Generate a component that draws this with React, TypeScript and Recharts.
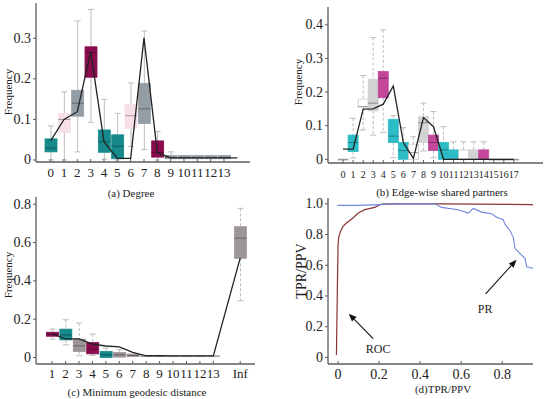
import React from 'react';
import { ComposedChart, Bar, Line, XAxis, YAxis, ReferenceLine, ReferenceDot } from 'recharts';

const SERIF = '"Liberation Serif", "Times New Roman", serif';
const AXIS = '#5c5c5c';
const TEAL = '#16898c';
const PINK = '#f7e0ea';
const GRAY = '#959da4';
const MAROON = '#8a0c4f';
const CYAN = '#2cbcc6';
const MAGENTA = '#c4479c';
const LIGHT = '#d3d3d3';
const WHITE = '#ffffff';
const MAUVE = '#9e9599';

// (a) Degree
const degreeCats = [0, 1, 2, 3, 4, 5, 6, 7, 8, 9, 10, 11, 12, 13];
const degreeLo = [0, 0, 0.02, 0.093, 0.002, 0, 0.033, 0.026, 0, 0.002, 0.002, 0.002, 0.002, 0.002];
const degreeQ1 = [0.02, 0.068, 0.108, 0.204, 0.019, 0.003, 0.078, 0.09, 0.007, 0.003, 0.003, 0.003, 0.003, 0.003];
const degreeMed = [0.029, 0.1, 0.14, 0.265, 0.045, 0.034, 0.109, 0.126, 0.018, 0.006, 0.006, 0.006, 0.006, 0.006];
const degreeQ3 = [0.052, 0.115, 0.172, 0.279, 0.074, 0.062, 0.137, 0.189, 0.047, 0.011, 0.011, 0.011, 0.011, 0.011];
const degreeHi = [0.084, 0.168, 0.343, 0.371, 0.149, 0.115, 0.19, 0.318, 0.07, 0.02, 0.011, 0.011, 0.011, 0.011];
const degreeColors = [TEAL, PINK, GRAY, MAROON, TEAL, TEAL, PINK, GRAY, MAROON, GRAY, GRAY, GRAY, GRAY, GRAY];
const degreeObsX = [0, 1, 2, 3, 4, 5, 6, 7, 8, 9, 10, 11, 12, 13, 14];
const degreeObs = [0.047, 0.1, 0.119, 0.267, 0.045, 0.004, 0.004, 0.301, 0.018, 0.005, 0.005, 0.005, 0.005, 0.005, 0.005];

// (b) Edge-wise shared partners
const espCats = [0, 1, 2, 3, 4, 5, 6, 7, 8, 9, 10, 11, 12, 13, 14, 15, 16, 17];
const espLo = [0, 0.004, 0.087, 0.072, 0.08, 0.005, 0, 0, 0.025, 0.005, 0, 0, 0, 0, 0, 0, 0, 0];
const espQ1 = [0, 0.023, 0.155, 0.144, 0.183, 0.05, 0, 0, 0.05, 0.026, 0, 0, 0, 0, 0, 0, 0, 0];
const espMed = [0, 0.05, 0.157, 0.167, 0.241, 0.069, 0.026, 0.02, 0.109, 0.05, 0.028, 0, 0, 0, 0, 0, 0, 0];
const espQ3 = [0, 0.072, 0.179, 0.238, 0.261, 0.119, 0.05, 0.045, 0.127, 0.072, 0.05, 0.028, 0.028, 0.028, 0.028, 0, 0, 0];
const espHi = [0, 0.122, 0.249, 0.362, 0.385, 0.13, 0.094, 0.067, 0.167, 0.142, 0.097, 0.052, 0.052, 0.052, 0.052, 0, 0, 0];
const espColors = [WHITE, CYAN, WHITE, LIGHT, MAGENTA, CYAN, CYAN, WHITE, LIGHT, MAGENTA, CYAN, CYAN, WHITE, LIGHT, MAGENTA, WHITE, WHITE, WHITE];
const espObs = [0.03, 0.03, 0.149, 0.15, 0.164, 0.218, 0.05, 0.003, 0.124, 0.097, 0, 0, 0, 0, 0, 0, 0, 0];

// (c) Minimum geodesic distance
const geoX = [1, 2, 3, 4, 5, 6, 7, 8, 9, 10, 11, 12, 13, 15];
const geoLabels = ['1', '2', '3', '4', '5', '6', '7', '8', '9', '10', '11', '12', '13', 'Inf'];
const geoLo = [0.096, 0.066, 0.009, 0.01, 0, 0.002, 0.005, 0.004, 0.004, 0.004, 0.004, 0.004, 0.004, 0.296];
const geoQ1 = [0.111, 0.092, 0.031, 0.019, 0, 0.002, 0.005, 0.004, 0.004, 0.004, 0.004, 0.004, 0.004, 0.518];
const geoMed = [0.122, 0.118, 0.061, 0.044, 0.014, 0.014, 0.01, 0.007, 0.007, 0.007, 0.007, 0.007, 0.007, 0.623];
const geoQ3 = [0.132, 0.148, 0.096, 0.078, 0.031, 0.026, 0.018, 0.01, 0.01, 0.01, 0.01, 0.01, 0.01, 0.683];
const geoHi = [0.148, 0.197, 0.18, 0.122, 0.049, 0.04, 0.018, 0.01, 0.01, 0.01, 0.01, 0.01, 0.01, 0.779];
const geoColors = [MAROON, TEAL, MAUVE, MAROON, TEAL, MAUVE, MAUVE, LIGHT, LIGHT, LIGHT, LIGHT, LIGHT, LIGHT, MAUVE];
const geoObs = [0.124, 0.097, 0.097, 0.07, 0.06, 0.055, 0.027, 0.009, 0.009, 0.008, 0.008, 0.008, 0.008, 0.52];

// (d) ROC / PR
const rocX = [-0.008, -0.006, -0.003, 0.0, 0.003, 0.007, 0.012, 0.024, 0.041, 0.055, 0.073, 0.098, 0.13, 0.179, 0.212, 0.25, 0.5, 0.95];
const rocY = [0.015, 0.2, 0.48, 0.73, 0.78, 0.8, 0.82, 0.853, 0.875, 0.89, 0.908, 0.94, 0.962, 0.977, 0.999, 1.0, 1.0, 0.995];
const prX = [-0.003, 0.1, 0.2, 0.3, 0.472, 0.504, 0.585, 0.634, 0.659, 0.7, 0.748, 0.773, 0.805, 0.813, 0.838, 0.854, 0.862, 0.886, 0.911, 0.919, 0.95];
const prY = [0.99, 0.99, 0.995, 1.0, 1.0, 0.977, 0.962, 0.94, 0.97, 0.946, 0.935, 0.913, 0.897, 0.868, 0.825, 0.782, 0.71, 0.677, 0.645, 0.59, 0.58];

type Row = { x: number; lo?: number; q1?: number; med?: number; q3?: number; hi?: number; color?: string; obs?: number };

function buildRows(xs: number[], lo: number[], q1: number[], med: number[], q3: number[], hi: number[], colors: string[], obsX: number[], obs: number[]): Row[] {
  const rows = new Map<number, Row>();
  xs.forEach((x, i) => rows.set(x, { x, lo: lo[i], q1: q1[i], med: med[i], q3: q3[i], hi: hi[i], color: colors[i] }));
  obsX.forEach((x, i) => {
    const r = rows.get(x) ?? { x };
    r.obs = obs[i];
    rows.set(x, r);
  });
  return Array.from(rows.values()).sort((a, b) => a.x - b.x);
}

const degreeRows = buildRows(degreeCats, degreeLo, degreeQ1, degreeMed, degreeQ3, degreeHi, degreeColors, degreeObsX, degreeObs);
const espRows = buildRows(espCats, espLo, espQ1, espMed, espQ3, espHi, espColors, espCats, espObs);
const geoRows = buildRows(geoX, geoLo, geoQ1, geoMed, geoQ3, geoHi, geoColors, geoX, geoObs);
const rocData = rocX.map((x, i) => ({ x, y: rocY[i] }));
const prData = prX.map((x, i) => ({ x, y: prY[i] }));

const makeBoxShape = (dashed: boolean) => (props: any) => {
  const { x, y, width, height, payload } = props;
  if (payload == null || payload.hi == null) return <g />;
  const { lo, hi, q1, q3, med, color } = payload as Row;
  const top = Math.min(y, y + height);
  const h = Math.abs(height);
  const span = (hi as number) - (lo as number);
  const toY = (v: number) => (span > 0 ? top + (((hi as number) - v) / span) * h : top);
  const cx = x + width / 2;
  const yHi = toY(hi as number);
  const yLo = toY(lo as number);
  const yQ3 = toY(q3 as number);
  const yQ1 = toY(q1 as number);
  const yMed = toY(med as number);
  const wStroke = '#bdbdbd';
  const dash = dashed ? '3 2' : undefined;
  const stroke = color === WHITE ? '#c9c9c9' : color;
  return (
    <g>
      {yHi < yQ3 - 0.5 && (
        <g>
          <line x1={cx} x2={cx} y1={yHi} y2={yQ3} stroke={wStroke} strokeDasharray={dash} />
          <line x1={cx - 3} x2={cx + 3} y1={yHi} y2={yHi} stroke={wStroke} />
        </g>
      )}
      {yLo > yQ1 + 0.5 && (
        <g>
          <line x1={cx} x2={cx} y1={yQ1} y2={yLo} stroke={wStroke} strokeDasharray={dash} />
          <line x1={cx - 3} x2={cx + 3} y1={yLo} y2={yLo} stroke={wStroke} />
        </g>
      )}
      <rect x={x} y={yQ3} width={width} height={Math.max(yQ1 - yQ3, 1)} fill={color} stroke={stroke} strokeWidth={0.8} />
      <line x1={x} x2={x + width} y1={yMed} y2={yMed} stroke="rgba(0,0,0,0.35)" strokeWidth={1} />
    </g>
  );
};

const XTick = (props: any) => {
  const { x, y, payload, ticks, labels, fontSize, dy } = props;
  const idx = ticks.indexOf(payload.value);
  const label = idx >= 0 ? labels[idx] : String(payload.value);
  return (
    <g>
      <line x1={x} x2={x} y1={y} y2={y - 3} stroke={AXIS} strokeWidth={1} />
      <text x={x} y={y + dy} textAnchor="middle" fill="#222" style={{ fontFamily: SERIF, fontSize }}>
        {label}
      </text>
    </g>
  );
};

const YTick = (props: any) => {
  const { x, y, payload, ticks, labels, fontSize } = props;
  const idx = ticks.indexOf(payload.value);
  const label = idx >= 0 ? labels[idx] : String(payload.value);
  return (
    <text x={x} y={y} textAnchor="end" dominantBaseline="central" fill="#222" style={{ fontFamily: SERIF, fontSize }}>
      {label}
    </text>
  );
};

type PanelProps = {
  left: number;
  top: number;
  width: number;
  height: number;
  margin: { top: number; right: number; left: number; bottom: number };
  yWidth: number;
  xHeight: number;
  xDomain: [number, number];
  xTicks: number[];
  xLabels: string[];
  xFont: number;
  xDy: number;
  yDomain: [number, number];
  yTicks: number[];
  yLabels: string[];
  yFont: number;
  children: React.ReactNode;
  data?: any[];
};

function Panel(p: PanelProps) {
  return (
    <div style={{ position: 'absolute', left: p.left, top: p.top, width: p.width, height: p.height, fontFamily: SERIF }}>
      <ComposedChart width={p.width} height={p.height} data={p.data} margin={p.margin}>
        <XAxis
          type="number"
          dataKey="x"
          domain={p.xDomain}
          ticks={p.xTicks}
          allowDataOverflow
          interval={0}
          height={p.xHeight}
          axisLine={{ stroke: AXIS, strokeWidth: 1.3 }}
          tickLine={false}
          tickSize={0}
          tickMargin={0}
          tick={(tp: any) => <XTick {...tp} ticks={p.xTicks} labels={p.xLabels} fontSize={p.xFont} dy={p.xDy} />}
        />
        <YAxis
          type="number"
          domain={p.yDomain}
          ticks={p.yTicks}
          allowDataOverflow
          interval={0}
          width={p.yWidth}
          axisLine={{ stroke: AXIS, strokeWidth: 1.3 }}
          tickLine={{ stroke: AXIS }}
          tickSize={3}
          tickMargin={2}
          tick={(tp: any) => <YTick {...tp} ticks={p.yTicks} labels={p.yLabels} fontSize={p.yFont} />}
        />
        {p.children}
      </ComposedChart>
    </div>
  );
}

const Arrow = (props: any) => {
  const { x1, y1, x2, y2 } = props;
  const ang = Math.atan2(y2 - y1, x2 - x1);
  const L = 8;
  const W = 3.2;
  const bx = x2 - L * Math.cos(ang);
  const by = y2 - L * Math.sin(ang);
  const pts = `${x2},${y2} ${bx - W * Math.sin(ang)},${by + W * Math.cos(ang)} ${bx + W * Math.sin(ang)},${by - W * Math.cos(ang)}`;
  return (
    <g>
      <line x1={x1} y1={y1} x2={bx} y2={by} stroke="#111" strokeWidth={1.1} />
      <polygon points={pts} fill="#111" />
    </g>
  );
};

const textShape = (label: string) => (props: any) => (
  <text x={props.cx} y={props.cy} textAnchor="middle" dominantBaseline="central" fill="#222" style={{ fontFamily: SERIF, fontSize: 12 }}>
    {label}
  </text>
);

const caption: React.CSSProperties = {
  position: 'absolute',
  width: 240,
  textAlign: 'center',
  fontFamily: SERIF,
  fontSize: 11,
  lineHeight: '14px',
  color: '#222',
  whiteSpace: 'nowrap',
};

const vLabel = (cx: number, cy: number, text: string, size: number) => (
  <div
    style={{
      position: 'absolute',
      left: cx,
      top: cy,
      transform: 'translate(-50%, -50%) rotate(-90deg)',
      fontFamily: SERIF,
      fontSize: size,
      lineHeight: '1',
      color: '#222',
      whiteSpace: 'nowrap',
    }}
  >
    {text}
  </div>
);

export default function App() {
  return (
    <div style={{ position: 'absolute', left: 0, top: 0, width: 550, height: 399, background: '#fff', overflow: 'hidden' }}>
      <Panel
        left={0}
        top={0}
        width={275}
        height={195}
        data={degreeRows}
        margin={{ top: 3, right: 25, left: 0, bottom: 0 }}
        yWidth={36}
        xHeight={33}
        xDomain={[-1.1, 14.95]}
        xTicks={degreeCats}
        xLabels={degreeCats.map(String)}
        xFont={13}
        xDy={15}
        yDomain={[-0.005, 0.387]}
        yTicks={[0, 0.1, 0.2, 0.3]}
        yLabels={['0', '0.1', '0.2', '0.3']}
        yFont={14}
      >
        <Bar dataKey={(d: Row) => (d.hi == null ? null : [d.lo, d.hi])} barSize={12} shape={makeBoxShape(false)} isAnimationActive={false} />
        <Line dataKey="obs" type="linear" stroke="#222" strokeWidth={1.3} dot={false} isAnimationActive={false} />
      </Panel>

      <Panel
        left={275}
        top={0}
        width={275}
        height={195}
        data={espRows}
        margin={{ top: 7, right: 7, left: 0, bottom: 0 }}
        yWidth={53}
        xHeight={32}
        xDomain={[-1.5, 19.9]}
        xTicks={espCats}
        xLabels={espCats.map(String)}
        xFont={10}
        xDy={15}
        yDomain={[-0.011, 0.453]}
        yTicks={[0, 0.1, 0.2, 0.3, 0.4]}
        yLabels={['0', '0.1', '0.2', '0.3', '0.4']}
        yFont={14}
      >
        <Bar dataKey={(d: Row) => (d.hi == null ? null : [d.lo, d.hi])} barSize={10} shape={makeBoxShape(true)} isAnimationActive={false} />
        <Line dataKey="obs" type="linear" stroke="#222" strokeWidth={1.3} dot={false} isAnimationActive={false} />
      </Panel>

      <Panel
        left={0}
        top={195}
        width={275}
        height={204}
        data={geoRows}
        margin={{ top: 2, right: 20, left: 0, bottom: 0 }}
        yWidth={36}
        xHeight={35}
        xDomain={[-0.2, 16.1]}
        xTicks={geoX}
        xLabels={geoLabels}
        xFont={13}
        xDy={14}
        yDomain={[-0.034, 0.838]}
        yTicks={[0, 0.2, 0.4, 0.6, 0.8]}
        yLabels={['0', '0.2', '0.4', '0.6', '0.8']}
        yFont={14}
      >
        <Bar dataKey={(d: Row) => (d.hi == null ? null : [d.lo, d.hi])} barSize={12} shape={makeBoxShape(true)} isAnimationActive={false} />
        <Line dataKey="obs" type="linear" stroke="#222" strokeWidth={1.3} dot={false} isAnimationActive={false} />
      </Panel>

      <Panel
        left={275}
        top={195}
        width={275}
        height={204}
        margin={{ top: 3, right: 17, left: 0, bottom: 0 }}
        yWidth={53}
        xHeight={35}
        xDomain={[-0.049, 0.95]}
        xTicks={[0, 0.2, 0.4, 0.6, 0.8]}
        xLabels={['0', '0.2', '0.4', '0.6', '0.8']}
        xFont={14}
        xDy={15}
        yDomain={[-0.043, 1.038]}
        yTicks={[0, 0.2, 0.4, 0.6, 0.8, 1.0]}
        yLabels={['0', '0.2', '0.4', '0.6', '0.8', '1.0']}
        yFont={14}
      >
        <Line data={rocData} dataKey="y" type="linear" stroke="#8a3434" strokeWidth={1.2} dot={false} isAnimationActive={false} />
        <Line data={prData} dataKey="y" type="linear" stroke="#6f86df" strokeWidth={1.1} dot={false} isAnimationActive={false} />
        <ReferenceLine segment={[{ x: 0.171, y: 0.122 }, { x: 0.052, y: 0.285 }]} shape={Arrow} />
        <ReferenceLine segment={[{ x: 0.719, y: 0.413 }, { x: 0.87, y: 0.636 }]} shape={Arrow} />
        <ReferenceDot x={0.195} y={0.057} r={0} shape={textShape('ROC')} />
        <ReferenceDot x={0.717} y={0.317} r={0} shape={textShape('PR')} />
      </Panel>

      <div style={{ ...caption, left: 131 - 120, top: 186 }}>(a) Degree</div>
      <div style={{ ...caption, left: 442 - 120, top: 185 }}>(b) Edge-wise shared partners</div>
      <div style={{ ...caption, left: 137 - 120, top: 385 }}>(c) Minimum geodesic distance</div>
      <div style={{ ...caption, left: 443 - 120, top: 382 }}>(d)TPR/PPV</div>

      {vLabel(8, 92, 'Frequency', 11)}
      {vLabel(298, 82, 'Frequency', 11)}
      {vLabel(8, 275, 'Frequency', 11)}
      {vLabel(302, 271, 'TPR/PPV', 14)}
    </div>
  );
}
